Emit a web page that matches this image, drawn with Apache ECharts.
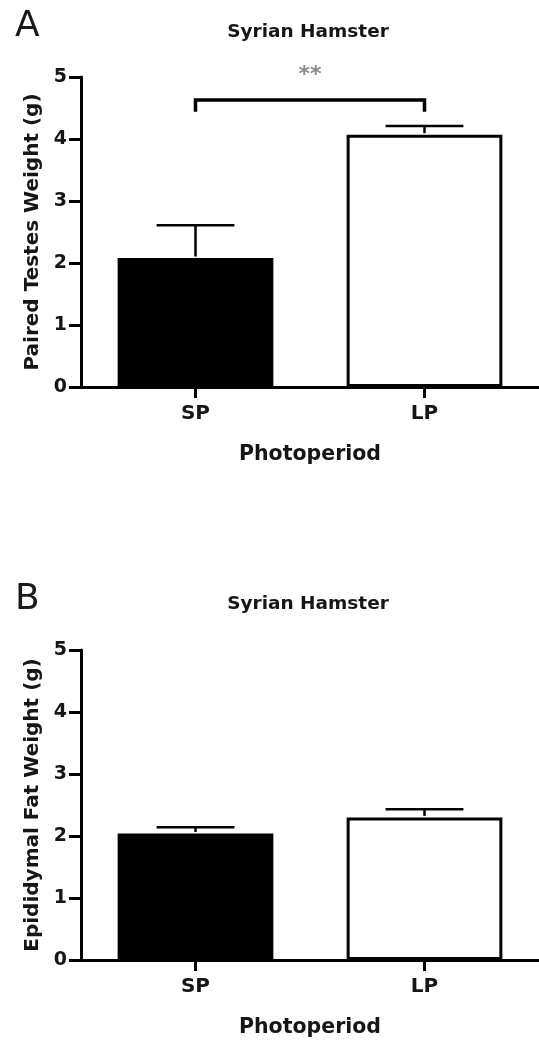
<!DOCTYPE html>
<html>
<head>
<meta charset="utf-8">
<script src="https://cdn.jsdelivr.net/npm/echarts@6/dist/echarts.min.js"></script>
<style>
html,body{margin:0;padding:0;background:#fff;}
#chart{width:539px;height:1041px;}
</style>
</head>
<body>
<div id="chart"></div>
<script>
// ---- data ----
const categories = ['SP', 'LP'];
const testesMean = [2.08, 4.07];
const testesSEM = [0.53, 0.14];
const fatMean = [2.04, 2.30];
const fatSEM = [0.10, 0.13];
const yTickMin = 0, yTickMax = 5, yTickStep = 1;
const barColors = ['#000000', '#ffffff'];
const sigLabel = '**';
const sigBracket = [0, 1, 4.44, 4.63, 5.02]; // from cat, to cat, foot, top, label level
const panelLabels = ['A', 'B'];
const panelTitles = ['Syrian Hamster', 'Syrian Hamster'];
const yNames = ['Paired Testes Weight (g)', 'Epididymal Fat Weight (g)'];
const xName = 'Photoperiod';

// ---- styling ----
const FONT = 'DejaVu Sans';
const TXT = '#161616';
const gridTops = [77, 650];

function axisPair(i) {
  const x = {
    type: 'category', gridIndex: i, data: categories,
    axisLine: { show: true, lineStyle: { color: '#000', width: 3 } },
    axisTick: { show: true, alignWithLabel: true, length: 11, lineStyle: { color: '#000', width: 3 } },
    axisLabel: { fontFamily: FONT, fontWeight: 'bold', fontSize: 20, color: TXT, margin: 17 },
    name: xName, nameLocation: 'middle', nameGap: 57,
    nameTextStyle: { fontFamily: FONT, fontWeight: 'bold', fontSize: 20.5, color: TXT },
    splitLine: { show: false }
  };
  const y = {
    type: 'value', gridIndex: i, min: yTickMin, max: yTickMax, interval: yTickStep,
    axisLine: { show: true, lineStyle: { color: '#000', width: 3 } },
    axisTick: { show: true, length: 12, lineStyle: { color: '#000', width: 3 } },
    axisLabel: { fontFamily: FONT, fontWeight: 'bold', fontSize: 19, color: TXT, margin: 14 },
    name: yNames[i], nameLocation: 'middle', nameGap: 38,
    nameTextStyle: { fontFamily: FONT, fontWeight: 'bold', fontSize: 20, color: TXT },
    splitLine: { show: false }
  };
  return [x, y];
}

function barSeries(i, means) {
  return {
    type: 'bar', xAxisIndex: i, yAxisIndex: i, barWidth: '68%',
    data: means.map((v, k) => ({
      value: v,
      itemStyle: { color: barColors[k], borderColor: '#000', borderWidth: 3 }
    })),
    z: 2
  };
}

function errSeries(i, means, sems) {
  return {
    type: 'custom', xAxisIndex: i, yAxisIndex: i, z: 3,
    data: categories.map((c, k) => [k, means[k], sems[k]]),
    renderItem: function (params, api) {
      const k = api.value(0), m = api.value(1), s = api.value(2);
      const base = api.coord([k, m]);
      const top = api.coord([k, m + s]);
      const half = api.size([1, 0])[0] * 0.17;
      const st = { stroke: '#000', lineWidth: 2.5 };
      return {
        type: 'group', children: [
          { type: 'line', shape: { x1: top[0], y1: base[1] - 1.5, x2: top[0], y2: top[1] }, style: st },
          { type: 'line', shape: { x1: top[0] - half, y1: top[1], x2: top[0] + half, y2: top[1] }, style: st }
        ]
      };
    }
  };
}

const bracketSeries = {
  type: 'custom', xAxisIndex: 0, yAxisIndex: 0, z: 4, clip: false,
  data: [sigBracket],
  renderItem: function (params, api) {
    const a = api.value(0), b = api.value(1), foot = api.value(2), topV = api.value(3), lab = api.value(4);
    const p1 = api.coord([a, foot]), p2 = api.coord([a, topV]);
    const p3 = api.coord([b, topV]), p4 = api.coord([b, foot]);
    const pl = api.coord([a, lab]), pr = api.coord([b, lab]);
    return {
      type: 'group', children: [
        { type: 'polyline', shape: { points: [p1, p2, p3, p4] },
          style: { stroke: '#000', lineWidth: 3.5, fill: null, lineJoin: 'miter' } },
        { type: 'text', x: (pl[0] + pr[0]) / 2, y: pl[1],
          style: { text: sigLabel, fill: '#8a8a8a', fontFamily: FONT, fontWeight: 'bold', fontSize: 22, align: 'center', verticalAlign: 'middle' } }
      ]
    };
  }
};

const [xa, ya] = axisPair(0);
const [xb, yb] = axisPair(1);

const option = {
  animation: false,
  backgroundColor: '#fff',
  title: [
    { text: panelLabels[0], left: 10, top: 4, textStyle: { fontFamily: FONT, fontWeight: 'normal', fontSize: 36, color: '#1a1a1a' } },
    { text: panelTitles[0], left: 303, top: 18, textAlign: 'center', textStyle: { fontFamily: FONT, fontWeight: 'bold', fontSize: 18.5, color: TXT } },
    { text: panelLabels[1], left: 10, top: 577, textStyle: { fontFamily: FONT, fontWeight: 'normal', fontSize: 36, color: '#1a1a1a' } },
    { text: panelTitles[1], left: 303, top: 590, textAlign: 'center', textStyle: { fontFamily: FONT, fontWeight: 'bold', fontSize: 18.5, color: TXT } }
  ],
  grid: [
    { left: 81, top: gridTops[0], width: 469, height: 310 },
    { left: 81, top: gridTops[1], width: 469, height: 310 }
  ],
  xAxis: [xa, xb],
  yAxis: [ya, yb],
  series: [
    barSeries(0, testesMean),
    errSeries(0, testesMean, testesSEM),
    bracketSeries,
    barSeries(1, fatMean),
    errSeries(1, fatMean, fatSEM)
  ]
};

const chart = echarts.init(document.getElementById('chart'), null, { renderer: 'canvas' });
chart.setOption(option);
</script>
</body>
</html>
